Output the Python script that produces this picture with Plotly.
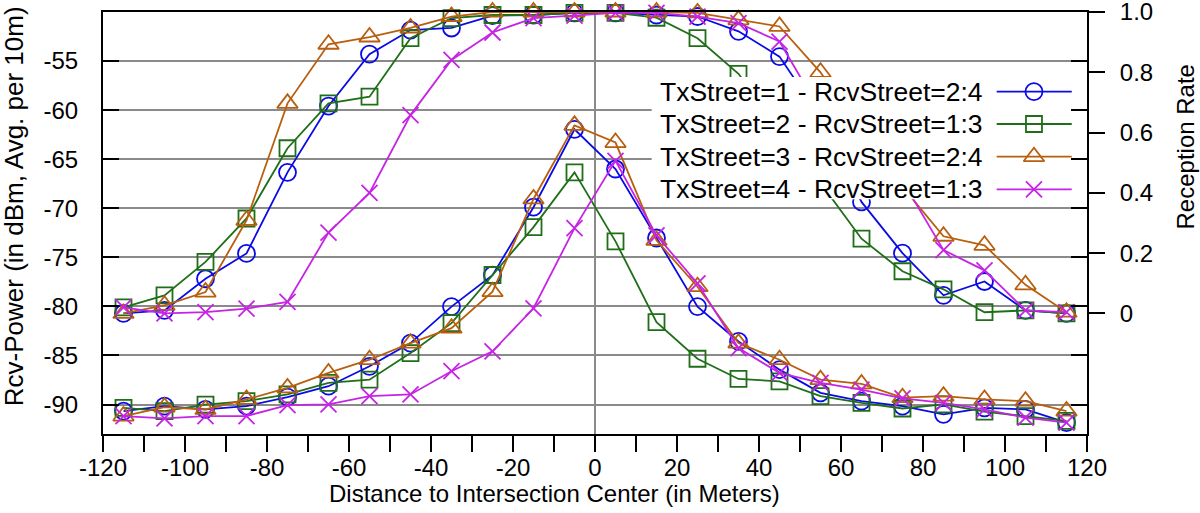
import plotly.graph_objects as go

# ---------------- data ----------------
DIST_M = [-115, -105, -95, -85, -75, -65, -55, -45, -35, -25, -15, -5,
          5, 15, 25, 35, 45, 55, 65, 75, 85, 95, 105, 115]

SERIES_NAMES = ["TxStreet=1 - RcvStreet=2:4",
                "TxStreet=2 - RcvStreet=1:3",
                "TxStreet=3 - RcvStreet=2:4",
                "TxStreet=4 - RcvStreet=1:3"]

RATE_TX1 = [0.0, 0.01, 0.115, 0.199, 0.468, 0.688, 0.86, 0.94, 0.947, 0.988, 0.99, 0.997,
            0.997, 0.99, 0.985, 0.936, 0.852, 0.65, 0.37, 0.20, 0.06, 0.106, 0.01, 0.0]
RATE_TX2 = [0.02, 0.06, 0.171, 0.315, 0.548, 0.697, 0.719, 0.913, 0.98, 0.99, 0.99, 0.997,
            0.997, 0.981, 0.913, 0.795, 0.61, 0.433, 0.248, 0.14, 0.08, 0.004, 0.01, 0.0]
RATE_TX3 = [0.0, 0.027, 0.071, 0.309, 0.697, 0.893, 0.917, 0.947, 0.985, 1.0, 1.0, 1.0,
            1.0, 1.0, 0.997, 0.974, 0.952, 0.80, 0.60, 0.42, 0.256, 0.226, 0.095, 0.004]
RATE_TX4 = [0.02, 0.0, 0.004, 0.016, 0.038, 0.268, 0.40, 0.658, 0.841, 0.932, 0.98, 0.988,
            0.997, 0.997, 0.985, 0.963, 0.902, 0.67, 0.56, 0.44, 0.21, 0.143, 0.01, 0.004]

POWER_TX1 = [-90.66, -90.15, -90.5, -90.15, -89.25, -88.13, -86.1, -83.74, -80.02, -76.82, -69.89, -61.95,
             -66.0, -73.03, -80.02, -83.57, -86.44, -88.8, -89.65, -90.15, -91.0, -90.33, -90.5, -91.84]
POWER_TX2 = [-90.33, -90.66, -90.0, -89.65, -88.97, -87.8, -87.46, -84.75, -81.71, -76.8, -71.92, -66.34,
             -73.37, -81.6, -85.33, -87.39, -87.63, -89.14, -89.82, -90.4, -89.99, -90.73, -91.17, -91.67]
POWER_TX3 = [-91.17, -90.26, -90.5, -89.48, -88.3, -86.78, -85.43, -83.74, -82.22, -78.5, -69.05, -61.55,
             -63.3, -73.27, -77.99, -83.74, -85.43, -87.46, -87.9, -89.3, -89.14, -89.48, -89.65, -90.66]
POWER_TX4 = [-91.17, -91.4, -91.17, -91.17, -90.05, -89.98, -89.14, -88.97, -86.6, -84.58, -80.19, -72.02,
             -65.17, -72.76, -77.66, -84.25, -86.78, -87.8, -88.47, -89.38, -89.82, -90.5, -91.34, -91.84]

X_TICKS = [-120, -100, -80, -60, -40, -20, 0, 20, 40, 60, 80, 100, 120]
X_TICK_TEXT = ["-120", "-100", "-80", "-60", "-40", "-20", "0", "20", "40", "60", "80", "100", "120"]
POWER_TICKS = [-90, -85, -80, -75, -70, -65, -60, -55]
POWER_TICK_TEXT = ["-90", "-85", "-80", "-75", "-70", "-65", "-60", "-55"]
RATE_TICKS = [0, 0.2, 0.4, 0.6, 0.8, 1.0]
RATE_TICK_TEXT = ["0", "0.2", "0.4", "0.6", "0.8", "1.0"]

X_TITLE = "Distance to Intersection Center (in Meters)"
Y_TITLE = "Rcv-Power (in dBm, Avg. per 10m)"
Y2_TITLE = "Reception Rate"

# ---------------- styles ----------------
COLORS = ["#0a0ae6", "#1f6e18", "#b85f0f", "#c624e4"]
SYMBOLS = ["circle-open", "square-open", "triangle-up-open", "x-thin-open"]
MSIZE = [17, 16, 18, 16]
FONT = "Liberation Sans, Arial, sans-serif"
GRID = "#8a8a8a"

rates = [RATE_TX1, RATE_TX2, RATE_TX3, RATE_TX4]
powers = [POWER_TX1, POWER_TX2, POWER_TX3, POWER_TX4]


def series_style(i):
    return dict(
        mode="lines+markers",
        line=dict(color=COLORS[i], width=1.8),
        marker=dict(symbol=SYMBOLS[i], size=MSIZE[i], color=COLORS[i],
                    line=dict(color=COLORS[i], width=1.8)),
        cliponaxis=False, showlegend=False, name=SERIES_NAMES[i],
    )


fig = go.Figure()
for i in range(4):
    fig.add_trace(go.Scatter(x=DIST_M, y=powers[i], xaxis="x", yaxis="y", **series_style(i)))
for i in range(4):
    fig.add_trace(go.Scatter(x=DIST_M, y=rates[i], xaxis="x", yaxis="y2", **series_style(i)))

# ---------------- custom key (text left, sample right, gnuplot style) ----------------
KEY_X0, KEY_X1 = 0.5576, 0.9848
KEY_Y0, KEY_Y1 = 0.556, 0.846
KEY_ROWS = [0.8111, 0.7346, 0.6571, 0.5799]
SAMPLE_X0, SAMPLE_XM, SAMPLE_X1 = 0.9082, 0.9461, 0.9845
TEXT_RIGHT = 0.8964

fig.add_trace(go.Scatter(
    x=[KEY_X0, KEY_X1, KEY_X1, KEY_X0, KEY_X0],
    y=[KEY_Y0, KEY_Y0, KEY_Y1, KEY_Y1, KEY_Y0],
    mode="lines", fill="toself", fillcolor="white", line=dict(width=0, color="white"),
    xaxis="x2", yaxis="y3", showlegend=False, hoverinfo="skip"))
annotations = []
for i in range(4):
    fig.add_trace(go.Scatter(
        x=[SAMPLE_X0, SAMPLE_X1], y=[KEY_ROWS[i], KEY_ROWS[i]], mode="lines",
        line=dict(color=COLORS[i], width=1.8), xaxis="x2", yaxis="y3",
        showlegend=False, hoverinfo="skip"))
    fig.add_trace(go.Scatter(
        x=[SAMPLE_XM], y=[KEY_ROWS[i]], mode="markers",
        marker=dict(symbol=SYMBOLS[i], size=MSIZE[i], color=COLORS[i],
                    line=dict(color=COLORS[i], width=1.8)),
        xaxis="x2", yaxis="y3", showlegend=False, hoverinfo="skip", cliponaxis=False))
    annotations.append(dict(
        text=SERIES_NAMES[i], xref="paper", yref="paper", x=TEXT_RIGHT, y=KEY_ROWS[i],
        xanchor="right", yanchor="middle", showarrow=False,
        font=dict(family=FONT, size=26.5, color="black")))

annotations.append(dict(text=X_TITLE, xref="paper", yref="paper", x=0.4593, y=-0.140,
                        xanchor="center", yanchor="middle", showarrow=False,
                        font=dict(family=FONT, size=24, color="black")))
annotations.append(dict(text=Y_TITLE, xref="paper", yref="paper", x=-0.0904, y=0.54,
                        xanchor="center", yanchor="middle", showarrow=False, textangle=-90,
                        font=dict(family=FONT, size=26, color="black")))
annotations.append(dict(text=Y2_TITLE, xref="paper", yref="paper", x=1.0996, y=0.679,
                        xanchor="center", yanchor="middle", showarrow=False, textangle=-90,
                        font=dict(family=FONT, size=24, color="black")))

fig.update_layout(
    width=1200, height=513, autosize=False,
    margin=dict(l=103, r=113, t=12, b=79, autoexpand=False),
    paper_bgcolor="white", plot_bgcolor="white",
    font=dict(family=FONT, size=24, color="black"),
    showlegend=False,
    annotations=annotations,
    xaxis=dict(
        range=[-120, 120], tickvals=X_TICKS, ticktext=X_TICK_TEXT, ticks="outside",
        ticklen=16, tickwidth=2, automargin=False,
        tickcolor="black", showline=True, linecolor="black", linewidth=2, mirror=True,
        showgrid=False, zeroline=True, zerolinecolor=GRID, zerolinewidth=2,
        minor=dict(dtick=10, tick0=0, ticks="outside", ticklen=16, tickwidth=2,
                   tickcolor="black", showgrid=False),
        tickfont=dict(size=24, color="black"), ticklabeloverflow="allow",
        ticklabelstandoff=-5,
    ),
    yaxis=dict(
        range=[-93, -50], tickvals=POWER_TICKS, ticktext=POWER_TICK_TEXT, ticks="inside",
        ticklen=16, tickwidth=2, automargin=False,
        tickcolor="black", showline=True, linecolor="black", linewidth=2, mirror="ticks",
        showgrid=True, gridcolor=GRID, gridwidth=2, zeroline=False,
        tickfont=dict(size=24, color="black"), ticklabelstandoff=18, ticklabeloverflow="allow",
    ),
    yaxis2=dict(
        range=[-0.4, 1.0], overlaying="y", side="right", tickvals=RATE_TICKS,
        ticktext=RATE_TICK_TEXT, ticks="outside", ticklen=16, tickwidth=2, tickcolor="black",
        showline=True, linecolor="black", linewidth=2, showgrid=False, zeroline=False,
        automargin=False, tickfont=dict(size=24, color="black"), ticklabelstandoff=10,
        ticklabeloverflow="allow",
    ),
    xaxis2=dict(overlaying="x", range=[0, 1], visible=False, fixedrange=True, automargin=False),
    yaxis3=dict(overlaying="y", range=[0, 1], visible=False, fixedrange=True, automargin=False),
)

fig.write_html("out.html", config={"displayModeBar": False},
               post_script="document.body.style.margin='0';document.body.style.overflow='hidden';")
